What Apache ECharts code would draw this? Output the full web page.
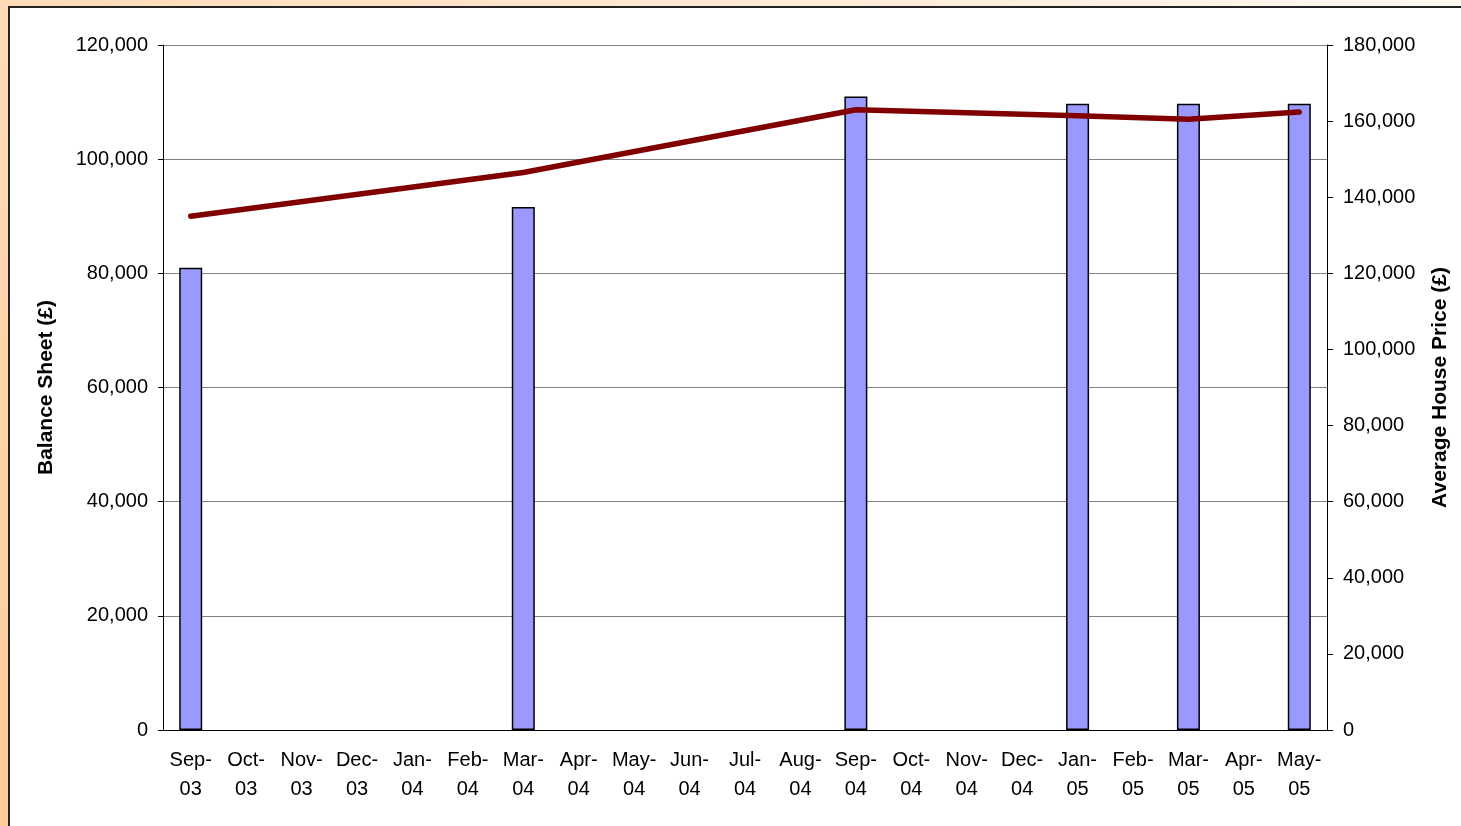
<!DOCTYPE html>
<html>
<head>
<meta charset="utf-8">
<script src="https://cdn.jsdelivr.net/npm/echarts@6/dist/echarts.min.js"></script>
<style>
  html, body { margin:0; padding:0; }
  body {
    width:1461px; height:826px; overflow:hidden; position:relative;
    background: linear-gradient(225deg, #fff9f2 0%, #ffe3c8 45%, #ffcc99 100%);
  }
  #panel {
    position:absolute; left:8px; top:6px; width:1470px; height:840px;
    background:#fff; border-left:2px solid #222; border-top:2px solid #222;
  }
  #chart { position:absolute; left:0; top:0; width:1461px; height:826px; }
</style>
</head>
<body>
<div id="panel"></div>
<div id="chart"></div>
<script>
// months along the x axis
var months = ['Sep-03','Oct-03','Nov-03','Dec-03','Jan-04','Feb-04','Mar-04','Apr-04',
  'May-04','Jun-04','Jul-04','Aug-04','Sep-04','Oct-04','Nov-04','Dec-04',
  'Jan-05','Feb-05','Mar-05','Apr-05','May-05'];
// balance sheet (left axis), only some months have values
var balance = [81000, null, null, null, null, null, 91600, null, null, null, null, null,
  111000, null, null, null, 109700, null, 109700, null, 109700];
// average house price (right axis)
var housePrice = [135000, null, null, null, null, null, 146500, null, null, null, null, null,
  163000, null, null, null, 161400, null, 160500, null, 162400];

var font = "'Liberation Sans', Arial, sans-serif";

function fmt(v) {
  return String(v).replace(/\B(?=(\d{3})+(?!\d))/g, ',');
}

var chart = echarts.init(document.getElementById('chart'));

var option = {
  animation: false,
  backgroundColor: 'transparent',
  textStyle: { fontFamily: font },
  grid: { left: 163, right: 134, top: 45, bottom: 96 },
  xAxis: {
    type: 'category',
    data: months,
    axisLine: { lineStyle: { color: '#000', width: 1 } },
    axisTick: { length: 6, lineStyle: { color: '#000' } },
    axisLabel: {
      interval: 0,
      color: '#000',
      fontSize: 20,
      lineHeight: 29,
      margin: 16,
      fontFamily: font,
      formatter: function (v) { return v.replace('-', '-\n'); }
    }
  },
  yAxis: [
    {
      type: 'value',
      min: 0, max: 120000, interval: 20000,
      name: 'Balance Sheet (£)',
      nameLocation: 'middle',
      nameRotate: 90,
      nameGap: 106,
      nameTextStyle: { fontSize: 21, fontWeight: 'bold', color: '#000', fontFamily: font },
      axisLine: { show: true, lineStyle: { color: '#000', width: 1 } },
      axisTick: { show: true, length: 5, lineStyle: { color: '#000' } },
      axisLabel: { color: '#000', fontSize: 20, margin: 15, fontFamily: font, formatter: fmt },
      splitLine: { show: true, lineStyle: { color: '#808080', width: 1 } }
    },
    {
      type: 'value',
      position: 'right',
      min: 0, max: 180000, interval: 20000,
      name: 'Average House Price (£)',
      nameLocation: 'middle',
      nameRotate: 90,
      nameGap: 103,
      nameTextStyle: { fontSize: 21, fontWeight: 'bold', color: '#000', fontFamily: font },
      axisLine: { show: true, lineStyle: { color: '#000', width: 1 } },
      axisTick: { show: true, length: 6, lineStyle: { color: '#000' } },
      axisLabel: { color: '#000', fontSize: 20, margin: 16, fontFamily: font, formatter: fmt },
      splitLine: { show: false }
    }
  ],
  series: [
    {
      name: 'Balance Sheet',
      type: 'bar',
      yAxisIndex: 0,
      data: balance,
      barWidth: 23,
      itemStyle: { color: '#9999ff', borderColor: '#000', borderWidth: 1.5 }
    },
    {
      name: 'Average House Price',
      type: 'line',
      yAxisIndex: 1,
      data: housePrice,
      connectNulls: true,
      symbol: 'none',
      lineStyle: { color: '#800000', width: 5.5, cap: 'round', join: 'round' },
      z: 5
    }
  ]
};

chart.setOption(option);
</script>
</body>
</html>
